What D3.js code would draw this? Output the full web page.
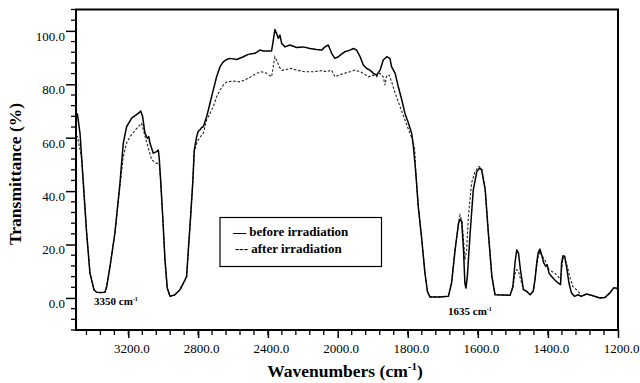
<!DOCTYPE html>
<html>
<head>
<meta charset="utf-8">
<script src="https://cdn.jsdelivr.net/npm/d3@7/dist/d3.min.js"></script>
<style>
  html, body { margin: 0; padding: 0; background: #fff; }
  svg { display: block; font-family: "Liberation Serif", "Times New Roman", serif; }
</style>
</head>
<body>
<svg id="chart" width="640" height="383"></svg>
<script>
// ---------- DATA ----------
const beforeWn = [3500,3492,3477,3458,3439,3420,3397,3382,3360,3334,3324,3305,3277,3248,3229,3210,3181,3143,3129,3118,3105,3091,3083,3076,3057,3038,3028,3023,3015,3003,2990,2977,2961,2933,2904,2875,2866,2856,2843,2831,2822,2808,2799,2789,2780,2770,2751,2732,2713,2694,2675,2656,2636,2617,2579,2541,2513,2474,2446,2427,2379,2369,2360,2350,2341,2331,2321,2302,2274,2235,2197,2159,2121,2092,2073,2054,2035,2016,1998,1993,1979,1965,1955,1946,1936,1927,1917,1908,1898,1889,1879,1870,1860,1851,1846,1836,1827,1817,1808,1798,1789,1784,1777,1770,1760,1751,1744,1737,1708,1684,1675,1665,1655,1651,1646,1641,1637,1634,1630,1622,1613,1603,1595,1589,1579,1570,1560,1551,1508,1500,1494,1489,1484,1478,1474,1470,1461,1451,1442,1437,1432,1428,1423,1418,1412,1406,1402,1397,1390,1381,1371,1364,1361,1357,1352,1347,1340,1333,1324,1314,1305,1290,1276,1252,1237,1223,1213,1204,1200];
const beforeT = [68.0,68.9,61.6,43.0,24.3,9.3,3.1,2.1,2.0,2.1,4.3,11.8,24.3,43.0,57.9,64.1,67.3,69.1,70.0,67.9,61.7,59.8,60.4,57.9,54.2,54.8,55.4,52.3,44.2,30.5,14.3,3.7,0.6,1.2,3.1,6.8,8.1,18.0,30.5,43.0,55.4,60.5,62.5,62.9,63.8,64.1,67.9,72.9,77.9,82.8,86.5,88.4,89.3,89.7,89.3,90.3,91.2,91.6,92.8,92.5,92.5,96.5,100.5,99.0,97.2,98.4,95.3,94.0,94.7,93.8,94.0,93.4,93.0,92.8,94.0,94.7,91.6,89.7,90.3,90.9,92.2,92.8,93.4,92.8,90.3,87.2,85.9,85.3,84.1,83.4,85.3,89.1,90.3,89.7,86.5,84.1,79.1,74.1,69.1,65.4,61.7,56.7,46.7,34.2,21.8,9.3,2.5,0.4,0.4,0.6,5.6,18.0,28.0,29.5,28.6,18.0,5.6,3.7,8.1,24.3,40.5,47.3,48.6,47.9,40.5,24.3,8.1,1.2,1.0,4.3,13.1,18.0,16.8,10.0,6.8,3.1,2.5,1.2,2.5,6.8,13.1,16.8,18.3,16.2,13.1,11.8,12.4,9.3,8.1,6.8,5.6,5.0,13.1,15.8,15.5,11.8,5.6,1.9,0.6,1.2,0.6,1.5,1.0,0.0,0.2,1.9,3.7,3.7,3.1];

const afterWn = [3500,3492,3478,3467,3458,3439,3420,3397,3382,3360,3334,3324,3305,3277,3248,3229,3210,3190,3152,3124,3110,3099,3085,3066,3038,3023,3015,3003,2990,2977,2961,2933,2904,2875,2866,2856,2843,2831,2822,2808,2799,2789,2780,2770,2751,2732,2713,2694,2675,2656,2636,2598,2560,2513,2465,2436,2408,2379,2360,2346,2335,2321,2302,2274,2235,2188,2140,2092,2064,2035,2016,1998,1981,1965,1951,1936,1927,1913,1898,1889,1879,1870,1865,1860,1853,1846,1836,1822,1808,1794,1786,1780,1777,1770,1760,1751,1744,1737,1708,1684,1675,1665,1655,1651,1646,1641,1637,1632,1627,1618,1608,1598,1589,1579,1570,1560,1551,1508,1500,1494,1489,1484,1478,1470,1461,1451,1442,1437,1432,1428,1423,1418,1409,1397,1381,1371,1364,1357,1347,1338,1329,1319,1310,1305,1290,1276,1252,1237,1223,1213,1204,1200];
const afterT = [60.0,60.4,56.0,52.0,43.0,24.3,9.3,3.1,2.1,2.0,2.1,4.3,11.8,24.3,42.0,52.9,58.0,60.4,63.5,65.4,62.0,59.2,56.0,51.7,50.4,50.4,44.2,30.5,14.3,3.7,0.6,1.2,3.1,6.8,8.1,18.0,30.5,43.0,55.0,58.0,59.2,60.0,61.0,61.7,66.6,69.1,71.6,75.3,77.8,79.7,80.9,81.2,80.9,82.2,84.1,84.7,84.1,82.8,90.3,88.4,86.5,85.3,85.3,86.0,85.3,84.7,84.7,85.1,84.7,85.3,82.8,83.4,84.1,84.7,85.3,84.7,84.1,82.8,83.4,82.8,84.1,82.8,79.7,83.4,83.4,80.9,76.6,71.6,66.6,61.7,59.2,55.4,46.7,34.2,21.8,9.3,2.5,0.4,0.4,0.6,5.6,18.0,28.5,31.0,29.0,22.0,14.3,18.0,30.5,43.0,47.3,49.2,48.6,40.5,24.3,8.1,1.2,1.0,4.0,9.0,10.6,10.0,7.0,3.1,2.5,1.2,2.5,6.8,12.0,15.5,17.4,16.0,14.3,10.6,9.3,8.1,6.8,15.0,13.1,8.1,4.3,3.1,1.9,0.6,1.5,1.0,0.0,0.2,1.9,3.7,3.7,3.1];

const xTickValues = [3200, 2800, 2400, 2000, 1800, 1600, 1400, 1200];
const xTickLabels = ["3200.0", "2800.0", "2400.0", "2000.0", "1800.0", "1600.0", "1400.0", "1200.0"];
const yTickValues = [0, 20, 40, 60, 80, 100];
const yTickLabels = ["0.0", "20.0", "40.0", "60.0", "80.0", "100.0"];
const seriesNames = ["— before irradiation", "--- after irradiation"];
const annotations = [{wn: 3350, t: 0, text: "3350 cm", sup: "-1"}, {wn: 1635, t: 0, text: "1635 cm", sup: "-1"}];

// ---------- LAYOUT ----------
const L = 76, R = 618, T = 9.5, B = 330;
const x = d3.scaleLinear().domain([3500, 2000, 1200]).range([L, 337.7, R]);
const y = d3.scaleLinear().domain([-12, 108]).range([B, T]);

const svg = d3.select("#chart");

// curves
const toPts = (w, t) => w.map((d, i) => [d, t[i]]);
const line = d3.line().x(d => x(d[0])).y(d => y(d[1]));

svg.append("path").datum(toPts(afterWn, afterT))
  .attr("d", line).attr("fill", "none").attr("stroke", "#222")
  .attr("stroke-width", 1.1).attr("stroke-dasharray", "2.5,1.8");
svg.append("path").datum(toPts(beforeWn, beforeT))
  .attr("d", line).attr("fill", "none").attr("stroke", "#000")
  .attr("stroke-width", 1.5).attr("stroke-linejoin", "round");

// frame
svg.append("rect").attr("x", L).attr("y", T).attr("width", R - L).attr("height", B - T)
  .attr("fill", "none").attr("stroke", "#000").attr("stroke-width", 2);

// x axis ticks
const xMinor = d3.range(3440, 2000, -80).concat(d3.range(1960, 1200, -40));
svg.append("g").selectAll("line").data(xMinor).join("line")
  .attr("x1", d => x(d)).attr("x2", d => x(d)).attr("y1", B).attr("y2", B + 5)
  .attr("stroke", "#000").attr("stroke-width", 1.3);
const xAxis = d3.axisBottom(x).tickValues(xTickValues)
  .tickFormat((d, i) => xTickLabels[i]).tickSize(8).tickPadding(6);
const gx = svg.append("g").attr("transform", `translate(0,${B})`).call(xAxis);
gx.select(".domain").remove();
gx.selectAll(".tick line").attr("stroke", "#000").attr("stroke-width", 1.5);
gx.selectAll(".tick text").attr("font-size", 13).attr("fill", "#000")
  .attr("font-family", "Liberation Serif, Times New Roman, serif").attr("dx", 3);

// y axis ticks
const yMinor = d3.range(-12, 109, 4).filter(v => v % 20 !== 0);
svg.append("g").selectAll("line").data(yMinor).join("line")
  .attr("x1", L - 5).attr("x2", L).attr("y1", d => y(d)).attr("y2", d => y(d))
  .attr("stroke", "#000").attr("stroke-width", 1.3);
const yAxis = d3.axisLeft(y).tickValues(yTickValues)
  .tickFormat((d, i) => yTickLabels[i]).tickSize(10).tickPadding(5);
const gy = svg.append("g").attr("transform", `translate(${L},0)`).call(yAxis);
gy.select(".domain").remove();
gy.selectAll(".tick line").attr("stroke", "#000").attr("stroke-width", 1.5);
gy.selectAll(".tick text").attr("font-size", 13).attr("fill", "#000")
  .attr("font-family", "Liberation Serif, Times New Roman, serif").attr("dy", "0.72em").attr("x", -11);

// axis titles
const xt = svg.append("text").attr("x", 345).attr("y", 377).attr("text-anchor", "middle")
  .attr("font-size", 17.5).attr("font-weight", "bold");
xt.append("tspan").text("Wavenumbers (cm");
xt.append("tspan").attr("font-size", 11).attr("dy", -7).text("-1");
xt.append("tspan").attr("dy", 7).text(")");

svg.append("text").attr("transform", "translate(21,174) rotate(-90)")
  .attr("text-anchor", "middle").attr("font-size", 17.5).attr("font-weight", "bold")
  .text("Transmittance (%)");

// annotations
const annPos = [[94, 305], [448, 315]];
annotations.forEach((a, i) => {
  const t = svg.append("text").attr("x", annPos[i][0]).attr("y", annPos[i][1])
    .attr("font-size", 11).attr("font-weight", "bold");
  t.append("tspan").text(a.text);
  t.append("tspan").attr("font-size", 6).attr("dy", -4).text(a.sup);
});

// legend
svg.append("rect").attr("x", 220).attr("y", 217.5).attr("width", 161.5).attr("height", 49)
  .attr("fill", "#fff").attr("stroke", "#000").attr("stroke-width", 1.2);
svg.append("g").selectAll("text").data(seriesNames).join("text")
  .attr("x", (d, i) => i === 0 ? 233 : 235).attr("y", (d, i) => 236 + i * 16.5)
  .attr("font-size", 13).attr("font-weight", "bold").text(d => d);
</script>
</body>
</html>
